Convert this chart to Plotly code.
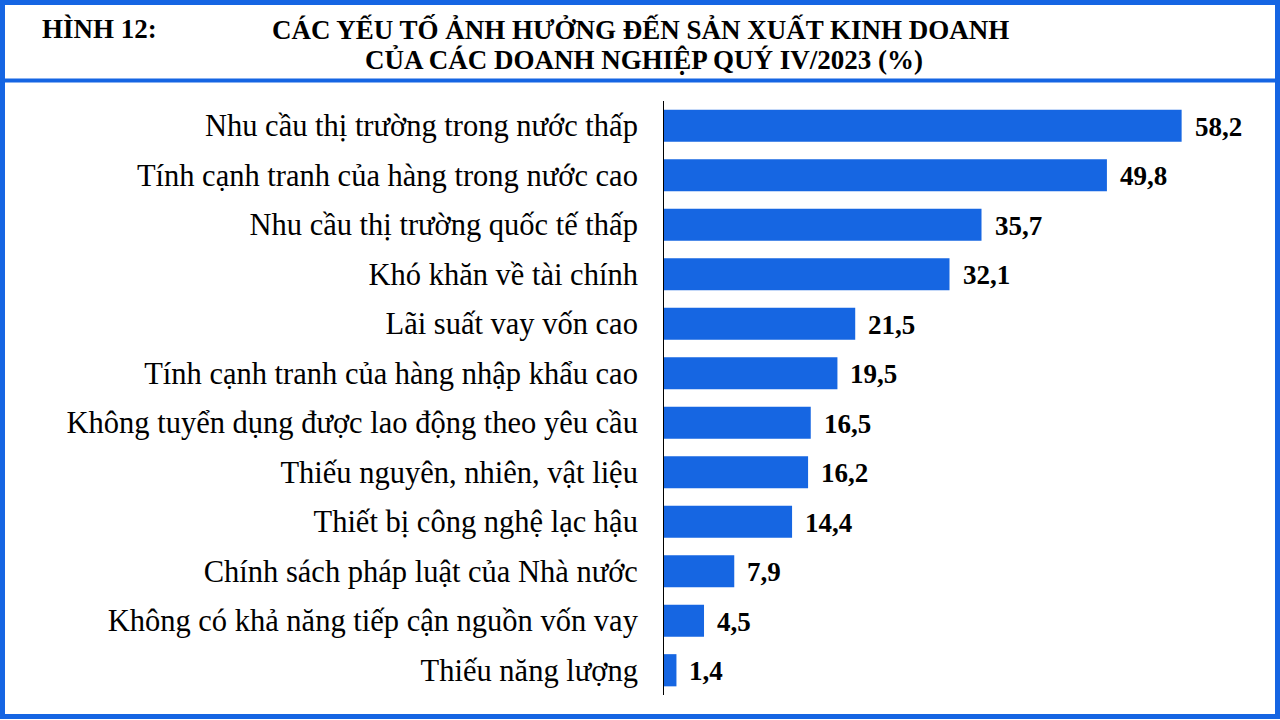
import plotly.graph_objects as go

categories = [
    "Nhu cầu thị trường trong nước thấp",
    "Tính cạnh tranh của hàng trong nước cao",
    "Nhu cầu thị trường quốc tế thấp",
    "Khó khăn về tài chính",
    "Lãi suất vay vốn cao",
    "Tính cạnh tranh của hàng nhập khẩu cao",
    "Không tuyển dụng được lao động theo yêu cầu",
    "Thiếu nguyên, nhiên, vật liệu",
    "Thiết bị công nghệ lạc hậu",
    "Chính sách pháp luật của Nhà nước",
    "Không có khả năng tiếp cận nguồn vốn vay",
    "Thiếu năng lượng",
]
values = [58.2, 49.8, 35.7, 32.1, 21.5, 19.5, 16.5, 16.2, 14.4, 7.9, 4.5, 1.4]
value_labels = ["58,2", "49,8", "35,7", "32,1", "21,5", "19,5", "16,5", "16,2", "14,4", "7,9", "4,5", "1,4"]

W, H = 1280, 720
L, R, T, B = 664, 29, 101, 25
PW, PH = W - L - R, H - T - B
BLUE = "#1565E3"
BAR = "#1666E2"
FONT = "Liberation Serif"


def px(x):
    return (x - L) / PW


def py(y):
    return (H - B - y) / PH


fig = go.Figure(go.Bar(
    x=values, y=categories, orientation="h",
    marker=dict(color=BAR, line=dict(width=0)),
    hoverinfo="skip",
))

for c, v, t in zip(categories, values, value_labels):
    fig.add_annotation(x=v, y=c, text=f"<b>{t}</b>", showarrow=False,
                       xanchor="left", xshift=11, yshift=-1,
                       font=dict(family=FONT, size=27, color="black"))

# title texts
fig.add_annotation(x=px(40), y=py(29), xref="paper", yref="paper", text="<b>HÌNH 12:</b>",
                   showarrow=False, xanchor="left", yanchor="middle",
                   font=dict(family=FONT, size=27, color="black"))
fig.add_annotation(x=px(640), y=py(29), xref="paper", yref="paper",
                   text="<b>CÁC YẾU TỐ ẢNH HƯỞNG ĐẾN SẢN XUẤT KINH DOANH</b>",
                   showarrow=False, xanchor="center", yanchor="middle",
                   font=dict(family=FONT, size=27, color="black"))
fig.add_annotation(x=px(644), y=py(60), xref="paper", yref="paper",
                   text="<b>CỦA CÁC DOANH NGHIỆP QUÝ IV/2023 (%)</b>",
                   showarrow=False, xanchor="center", yanchor="middle",
                   font=dict(family=FONT, size=27, color="black"))

# borders
fig.add_shape(type="rect", xref="paper", yref="paper",
              x0=px(2.5), x1=px(1277.5), y0=py(716.5), y1=py(2.5),
              line=dict(color=BLUE, width=5), fillcolor="rgba(0,0,0,0)", layer="above")
fig.add_shape(type="line", xref="paper", yref="paper",
              x0=px(0), x1=px(1280), y0=py(80.5), y1=py(80.5),
              line=dict(color=BLUE, width=4))

fig.update_layout(
    width=W, height=H,
    margin=dict(l=L, r=R, t=T, b=B, pad=0),
    paper_bgcolor="white", plot_bgcolor="white",
    bargap=0.35, showlegend=False,
    xaxis=dict(range=[0, 66], visible=False, showgrid=False, zeroline=False),
    yaxis=dict(autorange="reversed", showgrid=False, zeroline=False,
               showline=True, linecolor="black", linewidth=1,
               ticks="", ticklabelstandoff=19,
               tickfont=dict(family=FONT, size=30.5, color="black")),
)

fig.write_html("out.html", config={"displayModeBar": False},
               post_script="document.body.style.margin='0px';")
